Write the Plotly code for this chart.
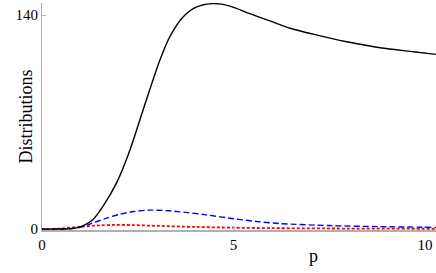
import plotly.graph_objects as go

# Black solid curve
black_p = [0, 0.5, 0.8, 1.08, 1.34, 1.6, 1.95, 2.3, 2.64, 3.08, 3.34, 3.69, 4.04, 4.47, 4.91, 5.43, 5.95, 6.48, 7.08, 7.96, 8.83, 9.7, 10.29]
black_y = [0, 0.02, 0.3, 2.2, 6.5, 15.2, 30.4, 52, 78, 110.7, 126, 139, 145.4, 147.6, 146, 141, 136.3, 131.5, 127.6, 122.6, 118.7, 116.1, 114.4]

# Blue dashed curve
blue_p = [0, 0.5, 1.0, 1.25, 1.69, 2.0, 2.4, 2.82, 3.3, 3.8, 4.3, 5.0, 5.6, 6.2, 7.5, 8.8, 10.29]
blue_y = [0, 0.1, 1.1, 3.3, 7.2, 9.5, 11.5, 12.4, 12.0, 10.8, 9.3, 6.8, 5.0, 3.6, 2.3, 1.6, 1.1]

# Red dotted curve
red_p = [0, 0.5, 1.0, 1.5, 1.9, 2.4, 3.0, 4.0, 5.0, 6.0, 8.0, 10.29]
red_y = [0, 0.4, 1.5, 2.4, 2.7, 2.6, 2.1, 1.4, 0.9, 0.6, 0.35, 0.2]

x_ticks = [0, 5, 10]
y_ticks = [0, 140]

FONT = "Liberation Serif"

fig = go.Figure()
fig.add_trace(go.Scatter(x=red_p, y=red_y, mode="lines", line=dict(color="#ff0000", width=1.8, dash="3px,2px", shape="spline", smoothing=0.8)))
fig.add_trace(go.Scatter(x=blue_p, y=blue_y, mode="lines", line=dict(color="#0000ff", width=1.4, dash="6px,3px", shape="spline", smoothing=0.8)))
fig.add_trace(go.Scatter(x=black_p, y=black_y, mode="lines", line=dict(color="#000000", width=1.4, shape="spline", smoothing=0.8)))

fig.update_layout(
    width=436, height=273,
    margin=dict(l=42, r=0, t=3, b=43),
    paper_bgcolor="white", plot_bgcolor="white",
    showlegend=False,
    font=dict(family=FONT, size=15, color="black"),
    xaxis=dict(range=[0, 10.29], tickvals=x_ticks, ticktext=[str(v) for v in x_ticks], automargin=False,
               showgrid=False, zeroline=False, showline=True, linecolor="#b0b0b0", linewidth=1.5,
               ticks="inside", ticklen=4, tickcolor="#b0b0b0", tickfont=dict(family=FONT, size=15)),
    yaxis=dict(range=[-0.6, 148], tickvals=y_ticks, ticktext=[str(v) for v in y_ticks], automargin=False,
               showgrid=False, zeroline=False, showline=True, linecolor="#b0b0b0", linewidth=1,
               ticks="inside", ticklen=4, tickcolor="#b0b0b0", tickfont=dict(family=FONT, size=15)),
    annotations=[
        dict(text="Distributions", xref="paper", yref="paper", x=-(42 - 25) / 394, y=0.5,
             textangle=-90, showarrow=False, font=dict(family=FONT, size=18), xanchor="center", yanchor="middle"),
        dict(text="p", xref="paper", yref="paper", x=(313 - 42) / 394, y=-(256 - 230) / 227,
             showarrow=False, font=dict(family=FONT, size=18), xanchor="center", yanchor="middle"),
    ],
)

fig.write_html("out.html", config={"displayModeBar": False},
               post_script="document.body.style.margin='0px';document.body.style.overflow='hidden';")
